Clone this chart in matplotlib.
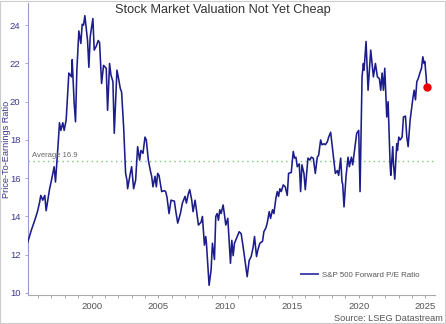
import matplotlib
matplotlib.use("Agg")
import matplotlib.pyplot as plt
from matplotlib.patches import Rectangle

plt.rcParams['font.family'] = ['Liberation Sans', 'DejaVu Sans']

# S&P 500 forward P/E, decimal year vs ratio
years = [1995.2, 1995.5, 1995.75, 1995.95, 1996.1, 1996.2, 1996.35, 1996.5, 1996.6, 1996.85,
         1997.0, 1997.2, 1997.3, 1997.5, 1997.6, 1997.7, 1997.85, 1997.95, 1998.1, 1998.3,
         1998.5, 1998.55, 1998.7, 1998.8, 1998.9, 1999.05, 1999.2, 1999.3, 1999.4, 1999.5,
         1999.7, 1999.8, 1999.9, 2000.1, 2000.2, 2000.35, 2000.5, 2000.6, 2000.75, 2000.9,
         2001.1, 2001.2, 2001.35, 2001.45, 2001.6, 2001.7, 2001.9, 2002.0, 2002.15, 2002.25,
         2002.4, 2002.55, 2002.65, 2002.7, 2002.9, 2003.0, 2003.15, 2003.3, 2003.45, 2003.6,
         2003.7, 2003.85, 2004.0, 2004.1, 2004.25, 2004.4, 2004.5, 2004.6, 2004.75, 2004.85,
         2004.95, 2005.05, 2005.25, 2005.45, 2005.55, 2005.65, 2005.8, 2005.95, 2006.2, 2006.3,
         2006.45, 2006.65, 2006.8, 2007.0, 2007.1, 2007.25, 2007.35, 2007.5, 2007.6, 2007.75,
         2007.85, 2008.0, 2008.2, 2008.3, 2008.45, 2008.55, 2008.6, 2008.8, 2008.95, 2009.05,
         2009.2, 2009.3, 2009.4, 2009.5, 2009.6, 2009.7, 2009.85, 2009.9, 2010.05, 2010.2,
         2010.4, 2010.5, 2010.6, 2010.7, 2010.85, 2011.05, 2011.2, 2011.35, 2011.55, 2011.65,
         2011.8, 2011.95, 2012.1, 2012.2, 2012.35, 2012.45, 2012.6, 2012.8, 2012.9, 2013.05,
         2013.15, 2013.3, 2013.4, 2013.55, 2013.65, 2013.8, 2013.9, 2014.0, 2014.1, 2014.2,
         2014.35, 2014.5, 2014.65, 2014.75, 2014.95, 2015.1, 2015.2, 2015.3, 2015.4, 2015.55,
         2015.65, 2015.75, 2015.9, 2016.0, 2016.2, 2016.35, 2016.45, 2016.6, 2016.75, 2016.9,
         2017.0, 2017.15, 2017.25, 2017.4, 2017.5, 2017.65, 2017.75, 2017.9, 2018.0, 2018.15,
         2018.25, 2018.4, 2018.5, 2018.65, 2018.75, 2018.8, 2018.9, 2019.05, 2019.2, 2019.3,
         2019.45, 2019.55, 2019.75, 2019.85, 2020.0, 2020.1, 2020.25, 2020.35, 2020.4, 2020.55,
         2020.7, 2020.9, 2021.1, 2021.25, 2021.4, 2021.55, 2021.65, 2021.75, 2021.85, 2021.95,
         2022.05, 2022.1, 2022.2, 2022.3, 2022.35, 2022.4, 2022.55, 2022.6, 2022.7, 2022.85,
         2022.9, 2023.0, 2023.1, 2023.25, 2023.35, 2023.5, 2023.6, 2023.7, 2023.85, 2024.05,
         2024.15, 2024.25, 2024.35, 2024.45, 2024.6, 2024.7, 2024.8, 2024.9, 2024.95, 2025.05,
         2025.1]
pe_ratio = [12.6, 13.3, 13.8, 14.25, 14.7, 15.1, 14.85, 15.1, 14.3, 15.4,
            15.9, 16.6, 15.8, 17.8, 18.9, 18.5, 18.9, 18.5, 19.05, 21.5,
            21.3, 22.2, 19.9, 18.95, 21.65, 23.7, 23.05, 24.05, 24.0, 24.5,
            23.2, 21.8, 23.4, 24.35, 22.7, 22.9, 23.2, 23.1, 20.95, 21.9,
            21.75, 19.55, 22.0, 21.4, 21.05, 18.35, 21.65, 21.3, 20.7, 20.5,
            18.7, 16.25, 15.9, 15.45, 16.25, 16.6, 15.45, 15.9, 17.65, 16.95,
            17.45, 17.3, 18.15, 18.0, 16.95, 16.4, 16.1, 15.55, 16.1, 15.55,
            16.25, 16.15, 15.3, 15.35, 15.3, 15.0, 14.15, 14.85, 14.8, 14.3,
            13.65, 14.15, 14.7, 15.05, 14.7, 15.2, 15.4, 14.85, 14.25, 14.85,
            14.35, 13.55, 13.7, 14.0, 12.5, 12.95, 12.6, 10.4, 11.2, 12.6,
            11.75, 14.0, 14.15, 13.8, 14.35, 14.15, 14.6, 14.35, 13.55, 13.9,
            11.55, 12.75, 11.95, 12.6, 12.85, 13.2, 13.1, 12.4, 11.35, 10.85,
            11.7, 11.9, 12.4, 12.95, 11.9, 12.25, 12.6, 12.7, 13.2, 13.4,
            13.65, 14.25, 13.9, 14.35, 14.15, 14.95, 15.3, 15.05, 15.45, 15.3,
            15.65, 15.55, 15.1, 16.25, 16.3, 17.4, 17.05, 17.1, 16.6, 16.75,
            15.3, 16.7, 16.25, 15.4, 17.05, 16.95, 17.1, 17.05, 16.25, 17.1,
            17.2, 18.0, 17.75, 17.8, 17.75, 17.9, 18.15, 18.4, 17.8, 16.85,
            16.25, 16.4, 16.15, 17.05, 15.8, 15.7, 14.5, 16.1, 17.1, 16.6,
            17.1, 16.7, 17.8, 18.35, 18.5, 15.3, 21.3, 22.0, 21.65, 23.15,
            20.6, 22.7, 21.3, 22.0, 21.3, 21.2, 20.6, 21.5, 20.6, 21.75,
            20.1, 19.2, 20.0, 17.8, 16.75, 16.15, 17.65, 16.75, 15.95, 17.8,
            17.45, 18.15, 18.0, 18.15, 19.2, 19.25, 18.15, 17.65, 19.05, 20.15,
            20.6, 20.1, 21.05, 21.2, 21.55, 21.75, 22.35, 22.0, 22.1, 21.3,
            20.75]

average_pe = 16.9
x_ticks = [2000, 2005, 2010, 2015, 2020, 2025]
minor_years = list(range(1996, 2026))
y_ticks = [10, 12, 14, 16, 18, 20, 22, 24]

navy = '#1c1c8a'
blue_text = '#3a3a8c'
grey_text = '#555555'

fig = plt.figure(figsize=(4.46, 3.24), dpi=100)
ax = fig.add_axes([0.063, 0.09, 0.912, 0.90])

ax.plot(years, pe_ratio, color=navy, lw=1.15, label='S&P 500 Forward P/E Ratio', zorder=3)
ax.plot(years[-1], pe_ratio[-1], 'o', color='#ee0000', ms=5, zorder=4)

# long-run average
ax.axhline(average_pe, color='#7cc87c', lw=1.0, ls=(0, (1, 2.5)), zorder=2)
ax.text(1995.55, average_pe + 0.12, 'Average %.1f' % average_pe, fontsize=5.5,
        color='#666666', va='bottom', ha='left')

ax.set_xlim(1995.25, 2025.7)
ax.set_ylim(9.9, 25.15)

ax.set_xticks(x_ticks)
ax.set_xticks(minor_years, minor=True)
ax.set_yticks(y_ticks)
ax.tick_params(axis='x', which='both', direction='out', length=2.5, width=0.6,
               colors='#999999', labelcolor=grey_text, labelsize=6.8, pad=3)
ax.tick_params(axis='y', direction='out', length=2.5, width=0.6,
               colors='#9a9ad0', labelcolor=blue_text, labelsize=6.8, pad=3)

for s in ['top', 'right']:
    ax.spines[s].set_visible(False)
ax.spines['left'].set_color('#9a9ad0')
ax.spines['bottom'].set_color('#aaaaaa')
ax.spines['left'].set_linewidth(0.8)
ax.spines['bottom'].set_linewidth(0.8)

ax.set_ylabel('Price-To-Earnings Ratio', fontsize=6.6, color=blue_text)
ax.yaxis.set_label_coords(-0.043, 0.5)

leg = ax.legend(loc='lower right', bbox_to_anchor=(0.98, 0.03), frameon=False,
                fontsize=5.7, handlelength=2.2, handletextpad=0.5)
leg.get_lines()[0].set_color('#4848b4')
leg.get_lines()[0].set_linewidth(1.4)
for t in leg.get_texts():
    t.set_color(grey_text)

fig.text(0.5, 0.968, 'Stock Market Valuation Not Yet Cheap', ha='center', va='center',
         fontsize=9.2, color='#333333')
fig.text(0.993, 0.017, 'Source: LSEG Datastream', ha='right', va='center',
         fontsize=6.6, color=grey_text)

# thin frame round the whole figure
fig.patches.append(Rectangle((0.001, 0.002), 0.996, 0.995, transform=fig.transFigure,
                             fill=False, ec='#cccccc', lw=0.8))

fig.savefig('out.png', dpi=100)
